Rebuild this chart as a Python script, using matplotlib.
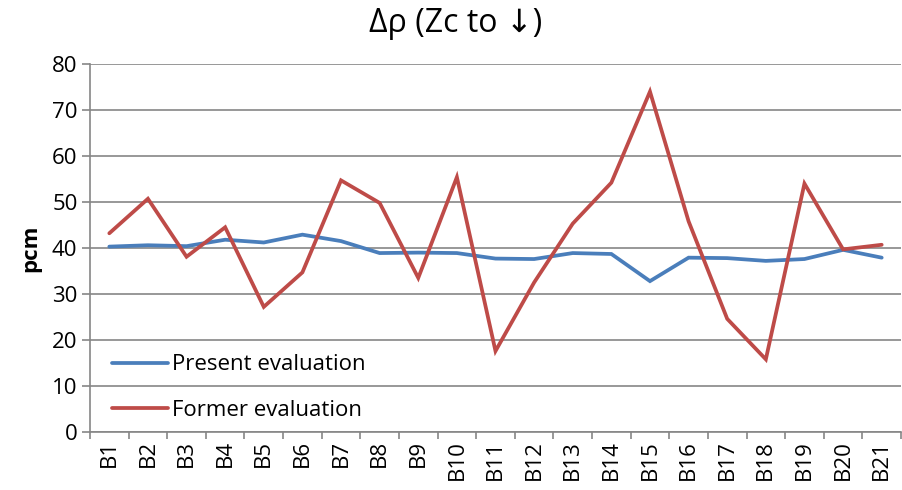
import matplotlib
matplotlib.use("Agg")
import matplotlib.pyplot as plt
import numpy as np

plt.rcParams['font.family'] = ['Open Sans', 'DejaVu Sans']

categories = [f"B{i}" for i in range(1, 22)]
present = [40.3, 40.6, 40.4, 41.8, 41.2, 42.9, 41.5, 38.9, 39.0, 38.9, 37.7,
           37.6, 38.9, 38.7, 32.8, 37.9, 37.8, 37.2, 37.6, 39.6, 37.9]
former = [43.2, 50.7, 38.1, 44.5, 27.2, 34.7, 54.7, 49.8, 33.5, 55.4, 17.6,
          32.5, 45.3, 54.2, 74.0, 45.8, 24.6, 15.8, 54.0, 39.7, 40.7]
yticks = list(range(0, 81, 10))

fig = plt.figure(figsize=(9.02, 4.9), dpi=100)
ax = fig.add_axes([90/902, 58/490, 811/902, 368/490])

x = np.arange(len(categories))
ax.plot(x, present, color='#4A7EBB', lw=2.7, label='Present evaluation', solid_capstyle='round', solid_joinstyle='miter')
ax.plot(x, former, color='#BE4B48', lw=2.7, label='Former evaluation', solid_capstyle='round', solid_joinstyle='miter')

ax.set_xlim(-0.5, len(categories) - 0.5)
ax.set_ylim(0, 80)
ax.set_yticks(yticks)
ax.set_yticklabels([str(v) for v in yticks], fontsize=16)
ax.yaxis.grid(True, color='#868686', lw=1.2)
ax.set_axisbelow(True)

ax.set_xticks(x)
ax.set_xticklabels(categories, rotation=90, fontsize=16)
ax.set_xticks(np.arange(-0.5, len(categories)), minor=True)
ax.tick_params(axis='x', which='major', length=0, pad=6)
ax.tick_params(axis='x', which='minor', length=5, color='#868686', width=1.2)
ax.tick_params(axis='y', length=6, color='#868686', width=1.2, pad=3)

for s in ['top', 'right']:
    ax.spines[s].set_visible(False)
for s in ['left', 'bottom']:
    ax.spines[s].set_color('#868686')
    ax.spines[s].set_linewidth(1.2)

ax.set_ylabel('pcm', fontsize=16, fontweight='bold', labelpad=8)
fig.text(0.505, 0.952, 'Δρ (Zc to ↓)', ha='center', va='center', fontsize=23,
         family=['Open Sans', 'DejaVu Sans'])

leg = ax.legend(loc='lower left', bbox_to_anchor=(0.008, -0.012), frameon=False,
                fontsize=16, handlelength=2.5, handletextpad=0.2,
                labelspacing=1.1, borderaxespad=0.3)

fig.savefig('out.png', dpi=100)
